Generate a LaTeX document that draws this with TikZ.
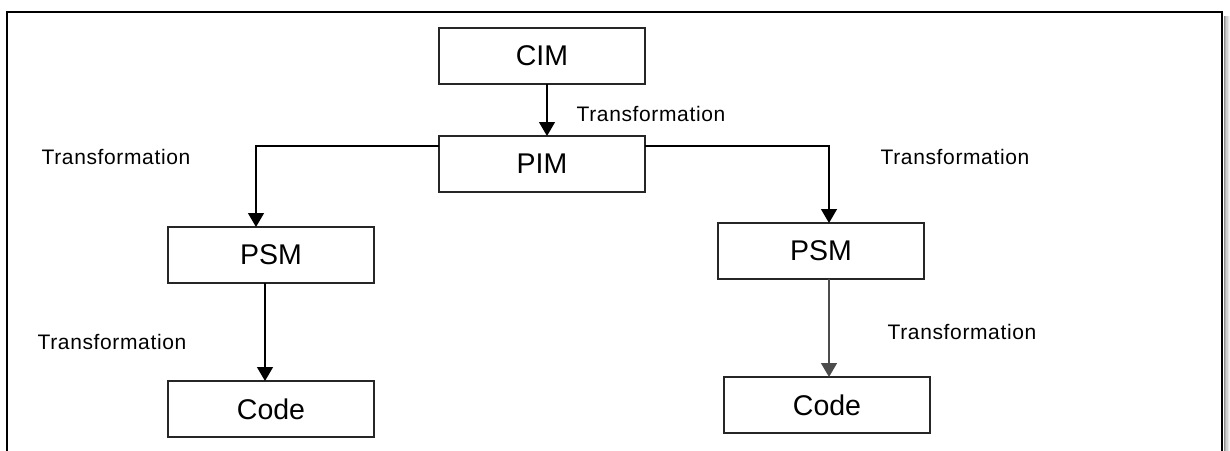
\documentclass[tikz,border=0pt]{standalone}
\usepackage{fontspec}
\setmainfont{Liberation Sans}
\newfontfamily\lblfont[LetterSpace=3]{Liberation Sans}
\usetikzlibrary{arrows.meta,positioning}

\begin{document}
\begin{tikzpicture}[
  x=1pt, y=-1pt,
  box/.style={draw=black!85, line width=1.7pt, minimum width=206pt,
              minimum height=56pt, inner sep=0pt, outer sep=0pt,
              font=\fontsize{28.5}{30}\selectfont},
  arr/.style={-{Triangle[width=16pt,length=14pt]}, line width=1.4pt, black},
  lbl/.style={font=\lblfont\fontsize{21}{24}\selectfont, inner sep=0pt}
]
\useasboundingbox (0,0) rectangle (1230,450);
% frame with its shadow on the right
\foreach \d/\c in {1/45,2/30,3/18,4/10,5/5} {
  \draw[black!\c, line width=1.2pt] (1223+\d*1.3,16) -- (1223+\d*1.3,452);
}
\draw[line width=2.6pt] (7,455) -- (7,12) -- (1222,12) -- (1222,455);

\node[box] (cim) at (542,56) {CIM};
\node[box, below=52pt of cim] (pim) {PIM};
\node[box] (psml) at (271,255) {PSM};
\node[box, below=98pt of psml] (codel) {Code};
\node[box] (psmr) at (821,251) {PSM};
\node[box, below=98pt of psmr, xshift=6pt] (coder) {Code};

\node[lbl] (tcim) at (651,114) {Transformation};
\node[lbl] (tpiml) at (116,157) {Transformation};
\node[lbl] (tpimr) at (955,157) {Transformation};
\node[lbl] (tpsml) at (112,342) {Transformation};
\node[lbl] (tpsmr) at (962,332) {Transformation};

\draw[arr] ([xshift=5pt]cim.south) -- ([xshift=5pt]pim.north);
\draw[arr] ([yshift=18pt]pim.west) -| ([xshift=-15pt]psml.north);
\draw[arr] ([yshift=18pt]pim.east) -| ([xshift=8pt]psmr.north);
\draw[arr] ([xshift=-6pt]psml.south) -- ([xshift=-6pt]codel.north);
\draw[arr, black!70] ([xshift=8pt]psmr.south) -- ([xshift=8pt]psmr.south |- coder.north);
\end{tikzpicture}
\end{document}
